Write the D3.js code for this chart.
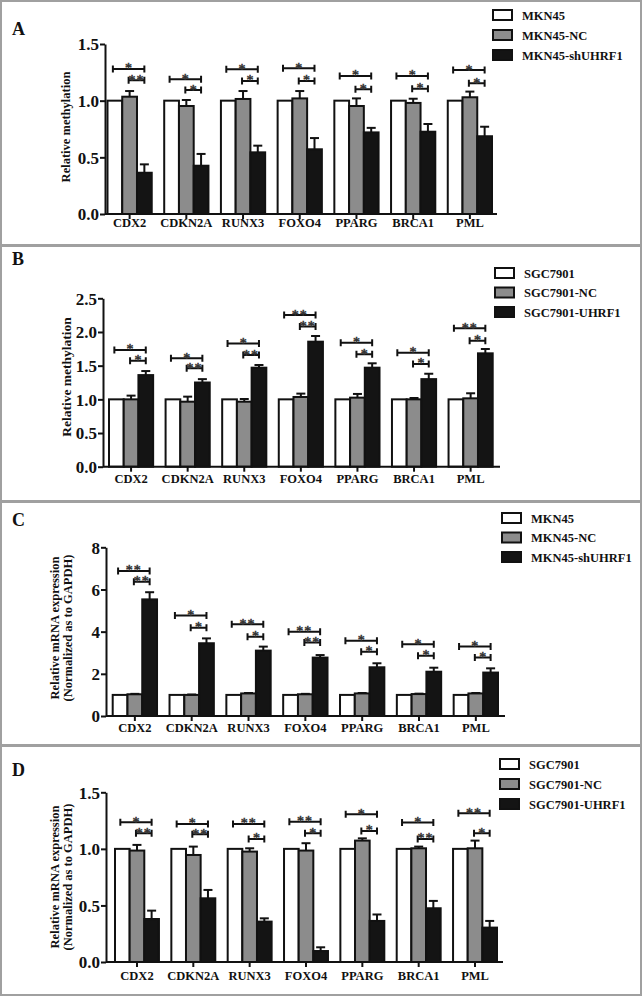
<!DOCTYPE html>
<meta charset="utf-8">
<style>
body { margin: 0; background: #fff; }
text { font-family: "Liberation Serif", "Times New Roman", serif; font-weight: bold; fill: #111; }
.star { stroke: #333; stroke-width: 0.5px; }
</style>
<body>
<script src="https://cdn.jsdelivr.net/npm/d3@7"></script>
<script>

// genes and groups
var genes = ["CDX2", "CDKN2A", "RUNX3", "FOXO4", "PPARG", "BRCA1", "PML"];
var seriesMKN = ["MKN45", "MKN45-NC", "MKN45-shUHRF1"];
var seriesSGC = ["SGC7901", "SGC7901-NC", "SGC7901-UHRF1"];

// A: methylation, MKN45
var aCtrl = [1, 1, 1, 1, 1, 1, 1];
var aNC = [1.035, 0.953, 1.015, 1.02, 0.953, 0.98, 1.03];
var aNCErr = [0.05, 0.053, 0.07, 0.065, 0.067, 0.037, 0.05];
var aSh = [0.364, 0.426, 0.544, 0.571, 0.72, 0.726, 0.686];
var aShErr = [0.074, 0.104, 0.059, 0.099, 0.04, 0.068, 0.084];
var aBrTop = [1.28, 1.19, 1.277, 1.286, 1.218, 1.218, 1.27];
var aBrLow = [1.18, 1.094, 1.174, 1.174, 1.1, 1.106, 1.153];
var aStarTop = ["*", "*", "*", "*", "*", "*", "*"];
var aStarLow = ["**", "*", "*", "*", "*", "*", "*"];

// B: methylation, SGC7901
var bCtrl = [1, 1, 1, 1, 1, 1, 1];
var bNC = [1.0, 0.965, 0.965, 1.035, 1.025, 1.0, 1.015];
var bNCErr = [0.055, 0.075, 0.04, 0.05, 0.055, 0.02, 0.075];
var bOE = [1.36, 1.25, 1.47, 1.856, 1.47, 1.30, 1.683];
var bOEErr = [0.06, 0.05, 0.04, 0.084, 0.065, 0.08, 0.064];
var bBrTop = [1.733, 1.609, 1.83, 2.252, 1.84, 1.693, 2.054];
var bBrLow = [1.574, 1.46, 1.658, 2.08, 1.668, 1.525, 1.871];
var bStarTop = ["*", "*", "*", "**", "*", "*", "**"];
var bStarLow = ["*", "**", "**", "**", "*", "*", "*"];

// C: mRNA, MKN45
var cCtrl = [1, 1, 1, 1, 1, 1, 1];
var cNC = [1.03, 1.0, 1.07, 1.03, 1.07, 1.04, 1.07];
var cNCErr = [0.02, 0.02, 0.02, 0.02, 0.02, 0.02, 0.02];
var cSh = [5.53, 3.45, 3.1, 2.77, 2.31, 2.1, 2.06];
var cShErr = [0.34, 0.23, 0.19, 0.12, 0.19, 0.19, 0.2];
var cBrTop = [6.88, 4.76, 4.35, 4.0, 3.57, 3.4, 3.29];
var cBrLow = [6.37, 4.19, 3.76, 3.48, 3.05, 2.86, 2.77];
var cStarTop = ["**", "*", "**", "**", "*", "*", "*"];
var cStarLow = ["**", "*", "*", "**", "*", "*", "*"];

// D: mRNA, SGC7901
var dCtrl = [1, 1, 1, 1, 1, 1, 1];
var dNC = [0.985, 0.946, 0.976, 0.985, 1.073, 1.005, 1.005];
var dNCErr = [0.05, 0.074, 0.029, 0.065, 0.02, 0.015, 0.068];
var dOE = [0.38, 0.563, 0.357, 0.097, 0.363, 0.475, 0.304];
var dOEErr = [0.074, 0.074, 0.029, 0.033, 0.057, 0.065, 0.059];
var dBrTop = [1.235, 1.22, 1.22, 1.24, 1.306, 1.232, 1.314];
var dBrLow = [1.138, 1.129, 1.088, 1.138, 1.158, 1.088, 1.138];
var dStarTop = ["*", "*", "**", "**", "*", "*", "**"];
var dStarLow = ["**", "**", "*", "*", "*", "**", "*"];

var fills = ["#ffffff", "#8c8c8c", "#141414"];

var svg = d3.select("body").append("svg")
    .attr("width", 642)
    .attr("height", 996);

// panel frames
var frames = [[0, 245], [245, 501], [501, 745], [745, 995]];
frames.forEach(function(f) {
  svg.append("rect")
      .attr("x", 1).attr("y", f[0] + 1)
      .attr("width", 640).attr("height", f[1] - f[0] - 1)
      .attr("fill", "none")
      .attr("stroke", "#a0a0a0")
      .attr("stroke-width", 2);
});

function drawPanel(p) {
  var g = svg.append("g");

  var x = d3.scaleBand().domain(genes)
      .range([p.gx0, p.gx1]).paddingInner(0.22).paddingOuter(0);
  var sub = d3.scaleBand().domain([0, 1, 2]).range([0, x.bandwidth()]);
  var y = d3.scaleLinear().domain([0, p.ymax]).range([p.y0, p.y1]);

  // panel letter
  g.append("text").attr("x", 12).attr("y", p.letterY)
      .style("font-size", "18px").text(p.letter);

  // y title
  var t = g.append("text")
      .attr("transform", "translate(" + p.titleX + "," + p.titleY + ") rotate(-90)")
      .attr("text-anchor", "middle")
      .style("font-size", p.titleSize + "px");
  p.title.forEach(function(line, i) {
    t.append("tspan").attr("x", 0).attr("dy", i === 0 ? 0 : "1.0em").text(line);
  });

  // bars
  var sets = [p.ctrl, p.nc, p.tr];
  sets.forEach(function(vals, s) {
    g.selectAll(null).data(vals).enter().append("rect")
        .attr("x", function(d, i) { return x(genes[i]) + sub(s); })
        .attr("y", function(d) { return y(d); })
        .attr("width", sub.bandwidth())
        .attr("height", function(d) { return y(0) - y(d); })
        .attr("fill", fills[s])
        .attr("stroke", "#111")
        .attr("stroke-width", 2);
  });

  // error bars (upper only)
  [[p.nc, p.ncErr, 1], [p.tr, p.trErr, 2]].forEach(function(e) {
    e[0].forEach(function(v, i) {
      var cx = x(genes[i]) + sub(e[2]) + sub.bandwidth() / 2;
      g.append("line")
          .attr("x1", cx).attr("x2", cx)
          .attr("y1", y(v)).attr("y2", y(v + e[1][i]))
          .attr("stroke", "#111").attr("stroke-width", 2);
      g.append("line")
          .attr("x1", cx - 4.5).attr("x2", cx + 4.5)
          .attr("y1", y(v + e[1][i])).attr("y2", y(v + e[1][i]))
          .attr("stroke", "#111").attr("stroke-width", 2);
    });
  });

  // significance brackets
  function bracket(xa, xb, yv, label) {
    var yy = y(yv);
    g.append("path")
        .attr("d", "M" + xa + "," + (yy - 3.5) + "V" + (yy + 3.5) +
                   "M" + xa + "," + yy + "H" + xb +
                   "M" + xb + "," + (yy - 3.5) + "V" + (yy + 3.5))
        .attr("fill", "none").attr("stroke", "#111").attr("stroke-width", 2);
    g.append("text")
        .attr("class", "star")
        .attr("x", (xa + xb) / 2).attr("y", yy + 4.5)
        .attr("text-anchor", "middle")
        .style("font-size", "14px").style("font-weight", "normal")
        .style("letter-spacing", label.length > 1 ? "1px" : "0px")
        .style("fill", "#333")
        .text(label);
  }
  genes.forEach(function(gn, i) {
    var c0 = x(gn) + sub(0) + sub.bandwidth() / 2 - 2;
    var c1 = x(gn) + sub(1) + sub.bandwidth() / 2 - 1;
    var c2 = x(gn) + sub(2) + sub.bandwidth() / 2;
    bracket(c0, c2, p.brTop[i], p.starTop[i]);
    bracket(c1, c2, p.brLow[i], p.starLow[i]);
  });

  // x axis
  var xa = g.append("g")
      .attr("transform", "translate(0," + p.y0 + ")")
      .call(d3.axisBottom(x).tickSize(5).tickSizeOuter(0));
  xa.select(".domain").attr("d", "M" + p.ax + ",0H" + p.axEnd)
      .attr("stroke", "#111").attr("stroke-width", 2);
  xa.selectAll(".tick line").attr("stroke", "#111").attr("stroke-width", 2);
  xa.selectAll(".tick text")
      .attr("y", p.labelDy).attr("dy", 0)
      .style("font-family", "Liberation Serif").style("font-weight", "bold")
      .style("font-size", "12.5px").style("fill", "#111");

  // y axis
  var ya = g.append("g")
      .attr("transform", "translate(" + p.ax + ",0)")
      .call(d3.axisLeft(y).tickValues(p.ticks).tickFormat(d3.format(p.fmt))
            .tickSize(5).tickSizeOuter(0));
  ya.select(".domain").attr("stroke", "#111").attr("stroke-width", 2);
  ya.selectAll(".tick line").attr("stroke", "#111").attr("stroke-width", 2);
  ya.selectAll(".tick text")
      .attr("x", -6).attr("dy", "0.35em")
      .style("font-family", "Liberation Serif").style("font-weight", "bold")
      .style("font-size", "17px").style("fill", "#111");

  // legend
  p.series.forEach(function(name, s) {
    var ly = p.legY + s * p.legStep;
    g.append("rect")
        .attr("x", p.legX).attr("y", ly - 5)
        .attr("width", 19).attr("height", 10)
        .attr("fill", fills[s]).attr("stroke", "#111").attr("stroke-width", 2);
    g.append("text")
        .attr("x", p.legX + 29).attr("y", ly + 4.5)
        .style("font-size", "12.5px").text(name);
  });
}

drawPanel({
  letter: "A", letterY: 35,
  title: ["Relative methylation"], titleX: 70, titleY: 127, titleSize: 12.5,
  ctrl: aCtrl, nc: aNC, ncErr: aNCErr, tr: aSh, trErr: aShErr,
  brTop: aBrTop, brLow: aBrLow, starTop: aStarTop, starLow: aStarLow,
  ymax: 1.5, ticks: [0, 0.5, 1.0, 1.5], fmt: ".1f",
  y0: 214, y1: 44, ax: 105, axEnd: 497, gx0: 107.5, gx1: 492, labelDy: 13,
  series: seriesMKN, legX: 493, legY: 15, legStep: 20
});

drawPanel({
  letter: "B", letterY: 265,
  title: ["Relative methylation"], titleX: 71, titleY: 377, titleSize: 13.5,
  ctrl: bCtrl, nc: bNC, ncErr: bNCErr, tr: bOE, trErr: bOEErr,
  brTop: bBrTop, brLow: bBrLow, starTop: bStarTop, starLow: bStarLow,
  ymax: 2.5, ticks: [0, 0.5, 1.0, 1.5, 2.0, 2.5], fmt: ".1f",
  y0: 466.7, y1: 298.3, ax: 103, axEnd: 500, gx0: 109, gx1: 492.7, labelDy: 16,
  series: seriesSGC, legX: 495, legY: 273, legStep: 19.5
});

drawPanel({
  letter: "C", letterY: 526,
  title: ["Relative mRNA expression", "(Normalized as to GAPDH)"],
  titleX: 59, titleY: 628, titleSize: 12.5,
  ctrl: cCtrl, nc: cNC, ncErr: cNCErr, tr: cSh, trErr: cShErr,
  brTop: cBrTop, brLow: cBrLow, starTop: cStarTop, starLow: cStarLow,
  ymax: 8, ticks: [0, 2, 4, 6, 8], fmt: "d",
  y0: 716, y1: 547.3, ax: 106, axEnd: 505, gx0: 112.7, gx1: 498, labelDy: 16,
  series: seriesMKN, legX: 502, legY: 518, legStep: 19.5
});

drawPanel({
  letter: "D", letterY: 776,
  title: ["Relative mRNA expression", "(Normalized as to GAPDH)"],
  titleX: 59, titleY: 877, titleSize: 12.5,
  ctrl: dCtrl, nc: dNC, ncErr: dNCErr, tr: dOE, trErr: dOEErr,
  brTop: dBrTop, brLow: dBrLow, starTop: dStarTop, starLow: dStarLow,
  ymax: 1.5, ticks: [0, 0.5, 1.0, 1.5], fmt: ".1f",
  y0: 962, y1: 792.3, ax: 106, axEnd: 503, gx0: 115, gx1: 497, labelDy: 18,
  series: seriesSGC, legX: 500, legY: 764, legStep: 20
});

</script>
</body>
